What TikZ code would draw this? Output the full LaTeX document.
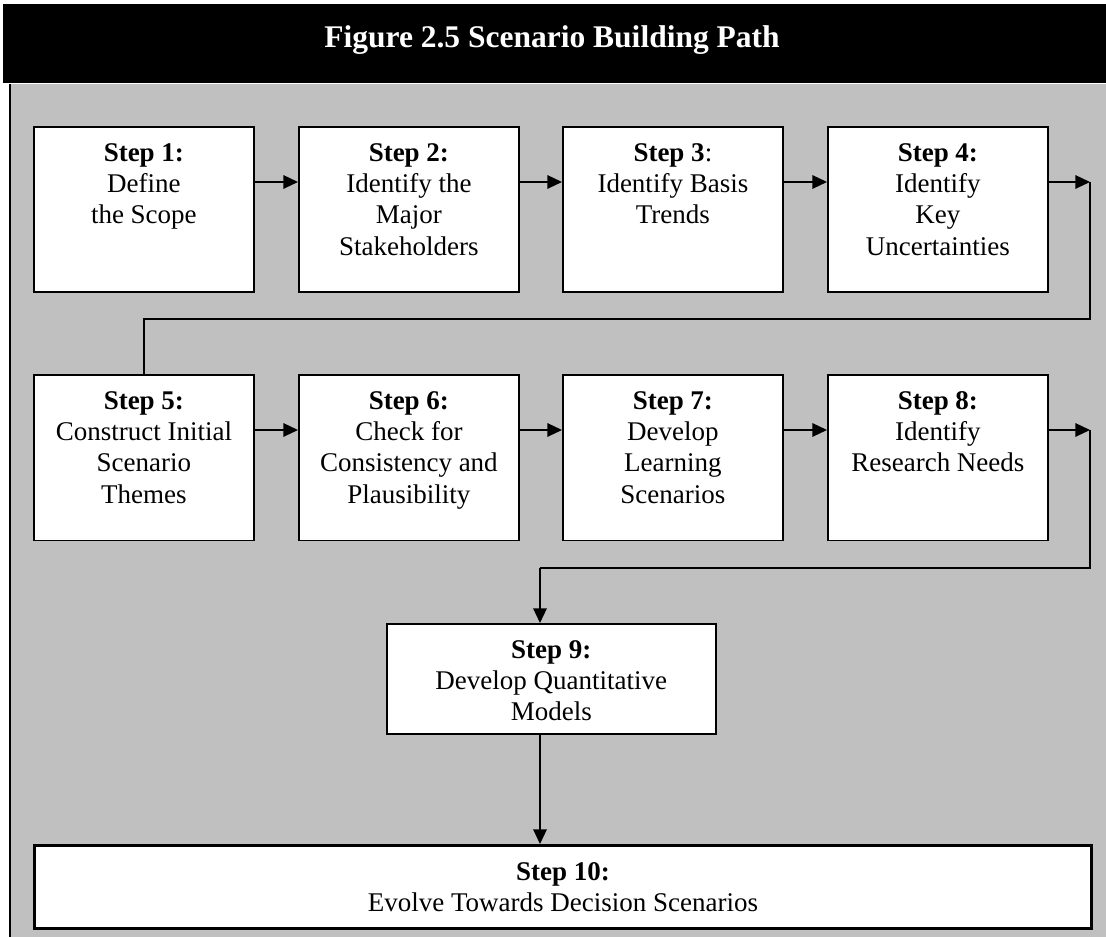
\documentclass[tikz,border=0pt]{standalone}
\usepackage{fontspec}
\setmainfont{Liberation Serif}
\usetikzlibrary{arrows.meta}
\definecolor{panelgray}{HTML}{C0C0C0}
% top-aligned, centred text block of a fixed size inside a step box
\newcommand\boxtext[3]{\parbox[c][#2][t]{#1}{\centering\vspace*{5.9pt}\strut #3}}
\begin{document}
\begin{tikzpicture}[x=0.4444pt, y=-0.4444pt,
  stepbox/.style={draw=black, fill=white, line width=0.75pt, inner sep=0pt,
    anchor=north west, font=\fontsize{12}{13.8}\selectfont},
  link/.style={line width=0.7pt},
  linkarrow/.style={link, -{Triangle[length=6.5pt, width=6pt]}}]
\useasboundingbox (0,0) rectangle (1106,937);
\fill[white] (0,0) rectangle (1106,937);

% title bar
\fill[black] (3,4) rectangle (1106,83);
\node[text=white, font=\fontsize{14}{16}\selectfont\bfseries, anchor=base] (title)
  at (552,48) {Figure 2.5 Scenario Building Path};

% grey panel
\fill[panelgray] (10,84) rectangle (1106,937);
\draw[line width=0.9pt] (10,84) -- (10,937);

% first row
\node[stepbox] (s1) at (33,126) {\boxtext{97.8pt}{73.4pt}{\textbf{Step 1:}\\ Define\\ the Scope}};
\node[stepbox] (s2) at (298,126) {\boxtext{97.8pt}{73.4pt}{\textbf{Step 2:}\\ Identify the\\ Major\\ Stakeholders}};
\node[stepbox] (s3) at (562,126) {\boxtext{97.8pt}{73.4pt}{\textbf{Step 3}:\\ Identify Basis\\ Trends}};
\node[stepbox] (s4) at (827,126) {\boxtext{97.8pt}{73.4pt}{\textbf{Step 4:}\\ Identify\\ Key\\ Uncertainties}};

% second row
\node[stepbox] (s5) at (33,374) {\boxtext{97.8pt}{73.6pt}{\textbf{Step 5:}\\ Construct Initial\\ Scenario\\ Themes}};
\node[stepbox] (s6) at (298,374) {\boxtext{97.8pt}{73.6pt}{\textbf{Step 6:}\\ Check for\\ Consistency and\\ Plausibility}};
\node[stepbox] (s7) at (562,374) {\boxtext{97.8pt}{73.6pt}{\textbf{Step 7:}\\ Develop\\ Learning\\ Scenarios}};
\node[stepbox] (s8) at (827,374) {\boxtext{97.8pt}{73.6pt}{\textbf{Step 8:}\\ Identify\\ Research Needs}};

% third and fourth rows
\node[stepbox] (s9) at (386,623) {\boxtext{146.2pt}{48.9pt}{\textbf{Step 9:}\\ Develop Quantitative\\ Models}};
\node[stepbox, line width=1.2pt, align=center, minimum width=469.8pt, minimum height=36.9pt]
  (s10) at (33,844) {\textbf{Step 10:}\\ Evolve Towards Decision Scenarios};

% connector levels and corners
\coordinate (r1) at (0,182);
\coordinate (r2) at (0,430);
\coordinate (c4) at (1090,182);
\coordinate (j4) at (1090,319);
\coordinate (c8) at (1090,430);
\coordinate (j8) at (540,568);

\draw[linkarrow] (s1.east |- r1) -- (s2.west |- r1);
\draw[linkarrow] (s2.east |- r1) -- (s3.west |- r1);
\draw[linkarrow] (s3.east |- r1) -- (s4.west |- r1);
\draw[linkarrow] (s4.east |- r1) -- (c4);
\draw[link] (c4) -- (j4) -| (s5.north);

\draw[linkarrow] (s5.east |- r2) -- (s6.west |- r2);
\draw[linkarrow] (s6.east |- r2) -- (s7.west |- r2);
\draw[linkarrow] (s7.east |- r2) -- (s8.west |- r2);
\draw[linkarrow] (s8.east |- r2) -- (c8);
\draw[link] (c8) |- (j8);
\draw[linkarrow] (j8) -- (j8 |- s9.north);
\draw[linkarrow] (j8 |- s9.south) -- (j8 |- s10.north);
\end{tikzpicture}
\end{document}
